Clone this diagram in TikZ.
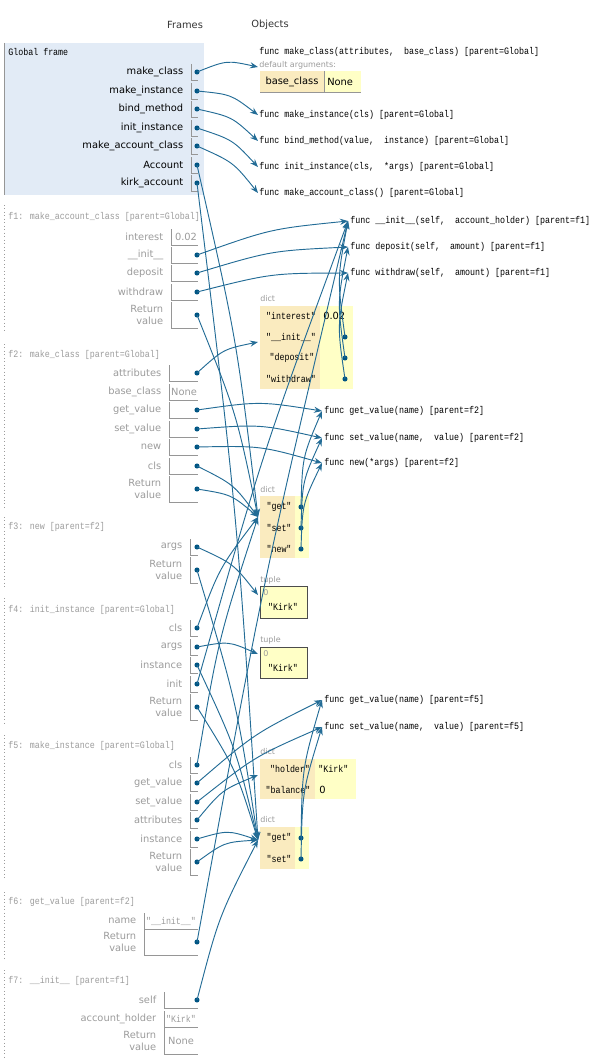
\documentclass[tikz,border=0pt]{standalone}
\usepackage{fontspec}
\setmainfont{DejaVu Sans}
\newfontfamily\codefont[FakeStretch=0.85]{Liberation Mono}
\usetikzlibrary{arrows.meta, calc}

\definecolor{ptrblue}{RGB}{0,85,131}
\definecolor{ptrline}{RGB}{35,108,150}
\definecolor{framebg}{RGB}{226,235,246}
\definecolor{keybg}{RGB}{250,235,191}
\definecolor{valbg}{RGB}{255,255,198}
\definecolor{faded}{RGB}{155,155,155}
\definecolor{cellgray}{RGB}{150,150,150}

\newcommand\codetext{\codefont\fontsize{7.35}{8}\selectfont}
\newcommand\nametext{\fontsize{7.4}{8.6}\selectfont}
\def\framecol{black}

% one row of a frame: label, y, left edge of the cell
\newcommand\varslot[3]{%
  \node[varname] at (#3-7.5,#2) {#1};
  \draw[cell] (#3,#2-8) -- (#3,#2+8) -- (198,#2+8);}
% a row holding a pointer: name, label, y, left edge of the cell
\newcommand\ptrslot[4]{%
  \varslot{#2}{#3}{#4}
  \coordinate (#1) at (197,#3);
  \fill[ptrblue] (#1) circle[radius=1.9pt];}
% the Return value row: y, left edge of the cell
\newcommand\retslot[2]{%
  \node[varname, align=right] at (#2-7.5,#1) {Return\\value};
  \draw[cell] (#2,#1-13) -- (#2,#1+13) -- (198,#1+13);}
\newcommand\ptrret[3]{%
  \retslot{#2}{#3}
  \coordinate (#1) at (197,#2);
  \fill[ptrblue] (#1) circle[radius=1.9pt];}

\begin{document}
\begin{tikzpicture}[x=0.75pt, y=-0.75pt,
  varname/.style={anchor=east, inner sep=0pt, text=\framecol, font=\nametext},
  cell/.style={draw=cellgray, line width=0.5pt},
  framehead/.style={anchor=west, inner sep=0pt, text=\framecol, font=\codetext},
  framerule/.style={draw=faded, dotted, line width=0.6pt},
  fnlabel/.style={anchor=west, inner sep=0pt, font=\codetext},
  objtag/.style={anchor=west, inner sep=0pt, text=faded, font=\fontsize{6}{7}\selectfont},
  dictkey/.style={inner sep=0pt, font=\codetext},
  ptr/.style={draw=ptrline, line width=0.7pt, -{Stealth[length=6pt, width=4.6pt, inset=2pt]}},
  bow/.style={to path={.. controls ($(\tikztostart)!0.5!(\tikztotarget)!#1!90:(\tikztotarget)$) .. (\tikztotarget) \tikztonodes}},
  bow/.default=7pt]
\useasboundingbox (0,0) rectangle (597,1063);

\node[font=\nametext, text=black!80] at (185,25) {Frames};
\node[font=\nametext, text=black!80] at (270,25) {Objects};

% Global frame
\fill[framebg] (4,43) rectangle (204,195);
\draw[cellgray, line width=0.6pt] (4,43) -- (4,195);
\node[framehead] at (8,52) {Global frame};
\ptrslot{gMakeClass}{make\_class}{72}{191}
\ptrslot{gMakeInstance}{make\_instance}{91}{191}
\ptrslot{gBindMethod}{bind\_method}{109}{191}
\ptrslot{gInitInstance}{init\_instance}{128}{191}
\ptrslot{gMakeAccountClass}{make\_account\_class}{146}{191}
\ptrslot{gAccount}{Account}{165}{191}
\ptrslot{gKirk}{kirk\_account}{183}{191}

\def\framecol{faded}
% f1
\draw[framerule] (4,205) -- (4,331);
\node[framehead] at (8,217) {f1: make\_account\_class [parent=Global]};
\varslot{interest}{237}{171}
\node[text=faded, font=\nametext] at (186,237) {0.02};
\ptrslot{aInit}{\_\_init\_\_}{255}{171}
\ptrslot{aDeposit}{deposit}{273}{171}
\ptrslot{aWithdraw}{withdraw}{292}{171}
\ptrret{aReturn}{315}{171}

% f2
\draw[framerule] (4,344) -- (4,507);
\node[framehead] at (8,355) {f2: make\_class [parent=Global]};
\ptrslot{cAttributes}{attributes}{373}{169}
\varslot{base\_class}{392}{169}
\node[text=faded, font=\nametext] at (184,392) {None};
\ptrslot{cGetValue}{get\_value}{410}{169}
\ptrslot{cSetValue}{set\_value}{429}{169}
\ptrslot{cNew}{new}{447}{169}
\ptrslot{cCls}{cls}{466}{169}
\ptrret{cReturn}{489}{169}

% f3
\draw[framerule] (4,517) -- (4,587);
\node[framehead] at (8,527) {f3: new [parent=f2]};
\ptrslot{nArgs}{args}{547}{190}
\ptrret{nReturn}{570}{190}

% f4
\draw[framerule] (4,598) -- (4,725);
\node[framehead] at (8,610) {f4: init\_instance [parent=Global]};
\ptrslot{iCls}{cls}{628}{190}
\ptrslot{iArgs}{args}{647}{190}
\ptrslot{iInstance}{instance}{665}{190}
\ptrslot{iInit}{init}{684}{190}
\ptrret{iReturn}{707}{190}

% f5
\draw[framerule] (4,735) -- (4,878);
\node[framehead] at (8,746) {f5: make\_instance [parent=Global]};
\ptrslot{mCls}{cls}{765}{190}
\ptrslot{mGetValue}{get\_value}{783}{190}
\ptrslot{mSetValue}{set\_value}{802}{190}
\ptrslot{mAttributes}{attributes}{820}{190}
\ptrslot{mInstance}{instance}{839}{190}
\ptrret{mReturn}{862}{190}

% f6
\draw[framerule] (4,892) -- (4,960);
\node[framehead] at (8,902) {f6: get\_value [parent=f2]};
\varslot{name}{921}{144}
\node[text=faded, font=\codetext] at (171,921) {"\_\_init\_\_"};
\ptrret{vReturn}{942}{144}

% f7
\draw[framerule] (4,970) -- (4,1060);
\node[framehead] at (8,981) {f7: \_\_init\_\_ [parent=f1]};
\ptrslot{sSelf}{self}{1000}{164}
\varslot{account\_holder}{1019}{164}
\node[text=faded, font=\codetext] at (181,1019) {"Kirk"};
\retslot{1041}{164}
\node[text=faded, font=\nametext] at (181,1041) {None};

% functions
\node[fnlabel] at (259,52) {func make\_class(attributes,~~base\_class) [parent=Global]};
\node[objtag] at (259,65) {default arguments:};
\fill[keybg] (260,71) rectangle (324,92);
\fill[valbg] (324,71) rectangle (361,92);
\draw[cell] (324,71) -- (324,92) (260,92) -- (361,92);
\node[font=\nametext] at (292,82) {base\_class};
\node[anchor=west, inner sep=0pt, font=\nametext] at (327,82) {None};
\node[fnlabel] at (259,115) {func make\_instance(cls) [parent=Global]};
\node[fnlabel] at (259,141) {func bind\_method(value,~~instance) [parent=Global]};
\node[fnlabel] at (259,167) {func init\_instance(cls,~~*args) [parent=Global]};
\node[fnlabel] at (259,193) {func make\_account\_class() [parent=Global]};
\coordinate (fnMakeClass) at (258,67);
\coordinate (fnMakeInstance) at (258,115);
\coordinate (fnBindMethod) at (258,141);
\coordinate (fnInitInstance) at (258,167);
\coordinate (fnMakeAccountClass) at (258,193);

\node[fnlabel] at (350,221) {func \_\_init\_\_(self,~~account\_holder) [parent=f1]};
\node[fnlabel] at (350,247) {func deposit(self,~~amount) [parent=f1]};
\node[fnlabel] at (350,273) {func withdraw(self,~~amount) [parent=f1]};
\coordinate (fnInit) at (348,221);
\coordinate (fnDeposit) at (348,247);
\coordinate (fnWithdraw) at (348,273);

% attributes of the account class
\node[objtag] at (260,299) {dict};
\fill[keybg] (260,306) rectangle (320,389);
\fill[valbg] (320,306) rectangle (353,389);
\node[dictkey] at (291,316) {"interest"};
\node[dictkey] at (291,337) {"\_\_init\_\_"};
\node[dictkey] at (292,358) {"deposit"};
\node[dictkey] at (291,379) {"withdraw"};
\node[anchor=west, inner sep=0pt, font=\nametext] at (323,316) {0.02};
\coordinate (attrsDict) at (258,342);
\foreach \k/\y in {dInit/337, dDeposit/358, dWithdraw/379} {
  \coordinate (\k) at (345,\y);
  \fill[ptrblue] (\k) circle[radius=1.9pt];
}

\node[fnlabel] at (324,411) {func get\_value(name) [parent=f2]};
\node[fnlabel] at (324,438) {func set\_value(name,~~value) [parent=f2]};
\node[fnlabel] at (324,463) {func new(*args) [parent=f2]};
\coordinate (fnGetF2) at (322,411);
\coordinate (fnSetF2) at (322,438);
\coordinate (fnNew) at (322,463);

% the class
\node[objtag] at (260,490) {dict};
\fill[keybg] (260,496) rectangle (295,558);
\fill[valbg] (295,496) rectangle (309,558);
\node[dictkey] at (279,507) {"get"};
\node[dictkey] at (279,528) {"set"};
\node[dictkey] at (279,549) {"new"};
\coordinate (classDict) at (258,517);
\foreach \k/\y in {kGet/507, kSet/528, kNew/549} {
  \coordinate (\k) at (301,\y);
  \fill[ptrblue] (\k) circle[radius=1.9pt];
}

% the two tuples
\node[objtag] at (260,580) {tuple};
\draw[fill=valbg, draw=black!70, line width=0.6pt] (260,586) rectangle (307,618);
\node[objtag] at (263,593) {0};
\node[dictkey] at (283,607) {"Kirk"};
\coordinate (tupleA) at (258,595);
\node[objtag] at (260,640) {tuple};
\draw[fill=valbg, draw=black!70, line width=0.6pt] (260,647) rectangle (307,678);
\node[objtag] at (263,654) {0};
\node[dictkey] at (283,668) {"Kirk"};
\coordinate (tupleB) at (258,654);

\node[fnlabel] at (324,700) {func get\_value(name) [parent=f5]};
\node[fnlabel] at (324,727) {func set\_value(name,~~value) [parent=f5]};
\coordinate (fnGetF5) at (322,700);
\coordinate (fnSetF5) at (322,727);

% attributes of the instance
\node[objtag] at (260,752) {dict};
\fill[keybg] (260,759) rectangle (315,799);
\fill[valbg] (315,759) rectangle (356,799);
\node[dictkey] at (290,769) {"holder"};
\node[dictkey] at (288,790) {"balance"};
\node[anchor=west, inner sep=0pt, font=\codetext] at (318,769) {"Kirk"};
\node[anchor=west, inner sep=0pt, font=\nametext] at (319,790) {0};
\coordinate (holderDict) at (258,775);

% the instance
\node[objtag] at (260,820) {dict};
\fill[keybg] (260,827) rectangle (295,869);
\fill[valbg] (295,827) rectangle (309,869);
\node[dictkey] at (279,838) {"get"};
\node[dictkey] at (279,859) {"set"};
\coordinate (instDict) at (258,840);
\foreach \k/\y in {jGet/838, jSet/859} {
  \coordinate (\k) at (301,\y);
  \fill[ptrblue] (\k) circle[radius=1.9pt];
}

% pointers
\foreach \src/\dst in {gMakeClass/fnMakeClass, gMakeInstance/fnMakeInstance,
    gBindMethod/fnBindMethod, gInitInstance/fnInitInstance,
    gMakeAccountClass/fnMakeAccountClass, gAccount/classDict, gKirk/instDict,
    aInit/fnInit, aDeposit/fnDeposit, aWithdraw/fnWithdraw, aReturn/classDict,
    dInit/fnInit, dDeposit/fnDeposit, dWithdraw/fnWithdraw,
    cAttributes/attrsDict, cGetValue/fnGetF2, cSetValue/fnSetF2, cNew/fnNew,
    cCls/classDict, cReturn/classDict, kGet/fnGetF2, kSet/fnSetF2, kNew/fnNew,
    nArgs/tupleA, nReturn/instDict,
    iCls/classDict, iArgs/tupleB, iInstance/instDict, iInit/fnInit, iReturn/instDict,
    mCls/classDict, mGetValue/fnGetF5, mSetValue/fnSetF5, mAttributes/holderDict,
    mInstance/instDict, mReturn/instDict, jGet/fnGetF5, jSet/fnSetF5,
    vReturn/fnInit, sSelf/instDict}
  \draw[ptr] (\src) to[bow] (\dst);
\end{tikzpicture}
\end{document}
